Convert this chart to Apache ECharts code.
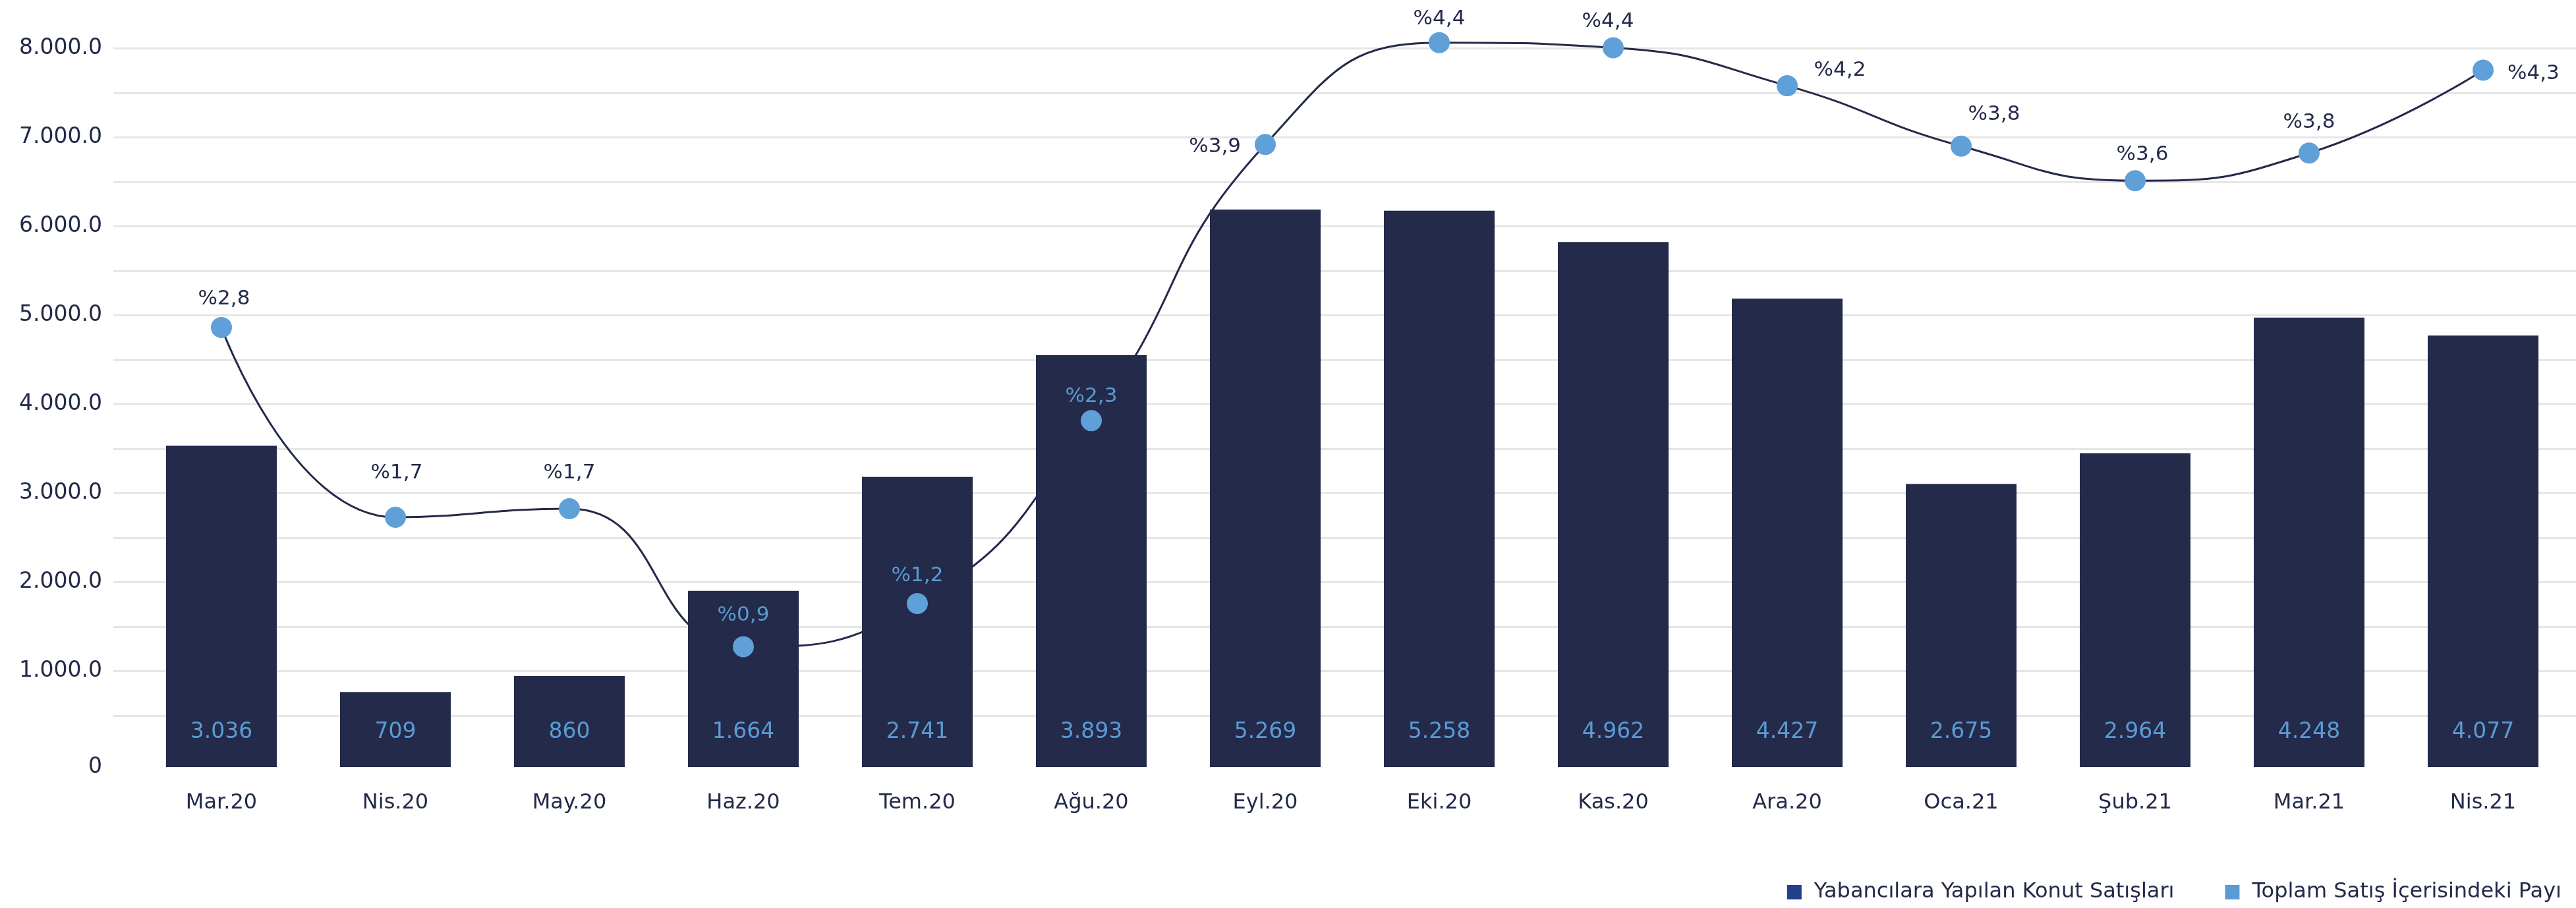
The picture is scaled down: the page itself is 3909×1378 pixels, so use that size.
<!DOCTYPE html>
<html>
<head>
<meta charset="utf-8">
<script src="https://cdn.jsdelivr.net/npm/echarts@6/dist/echarts.min.js"></script>
<style>
html,body{margin:0;padding:0;background:#fff;}
#chart{width:3909px;height:1378px;}
</style>
</head>
<body>
<div id="chart"></div>
<script>
// ---- data ----
const categories = ['Mar.20','Nis.20','May.20','Haz.20','Tem.20','Ağu.20','Eyl.20','Eki.20','Kas.20','Ara.20','Oca.21','Şub.21','Mar.21','Nis.21'];
const salesValues = [3036, 709, 860, 1664, 2741, 3893, 5269, 5258, 4962, 4427, 2675, 2964, 4248, 4077];
const shareValues = [2.79, 1.69, 1.74, 0.94, 1.19, 2.25, 3.85, 4.44, 4.41, 4.19, 3.84, 3.64, 3.80, 4.28];
const seriesNames = ['Yabancılara Yapılan Konut Satışları', 'Toplam Satış İçerisindeki Payı'];

// ---- styles ----
const NAVY = '#232a4a';
const LIGHT = '#5b9bd5';
const labelTweaks = [
  {offset:[4,0]}, {offset:[2,-25]}, {offset:[0,-12]}, {offset:[0,-5], color:LIGHT},
  {offset:[0,0], color:LIGHT}, {offset:[0,6], color:LIGHT}, {position:'left', distance:21, offset:[0,4]},
  {offset:[0,7]}, {offset:[-8,3]}, {offset:[80,19]}, {offset:[50,-5]}, {offset:[11,3]},
  {offset:[0,-4]}, {position:'right', distance:21, offset:[0,5]}
];

function thousands(v){ return String(v).replace(/\B(?=(\d{3})+(?!\d))/g, '.'); }
function pct(v){ return '%' + Number(v).toFixed(1).replace('.', ','); }

const chart = echarts.init(document.getElementById('chart'), null, {renderer:'canvas', devicePixelRatio:1});
const option = {
  animation: false,
  backgroundColor: '#ffffff',
  textStyle: {fontFamily: 'DejaVu Sans'},
  legend: {
    right: 17, top: 1333,
    icon: 'rect', itemWidth: 22, itemHeight: 22, itemGap: 77,
    textStyle: {fontSize: 32, color: NAVY, padding: [0,0,0,14]},
    data: [
      {name: seriesNames[0], itemStyle: {color: '#22418a'}},
      {name: seriesNames[1], itemStyle: {color: LIGHT}}
    ]
  },
  grid: [
    {left: 172, right: 0, top: 73.3, height: 1080},
    {left: 204, right: 9, top: 40, height: 1124}
  ],
  xAxis: [
    {gridIndex: 0, type: 'value', min: 0, max: 1, show: false},
    {gridIndex: 1, type: 'category', data: categories,
     axisLine: {show: false}, axisTick: {show: false},
     axisLabel: {fontSize: 32, color: NAVY, margin: 39, interval: 0}}
  ],
  yAxis: [
    {gridIndex: 0, type: 'value', min: 0, max: 8000, interval: 500,
     axisLine: {show: false}, axisTick: {show: false},
     axisLabel: {fontSize: 33, color: NAVY, margin: 17,
       formatter: v => (v % 1000 === 0 && v !== 0) ? thousands(v) + '.0' : ''},
     splitLine: {show: true, showMinLine: false, lineStyle: {color: '#e6e6e6', width: 3}}},
    {gridIndex: 1, type: 'value', min: 0, max: 7000, interval: 7000,
     axisLine: {show: false}, axisTick: {show: false}, splitLine: {show: false},
     axisLabel: {fontSize: 33, color: NAVY, margin: 49, formatter: v => v === 0 ? '0' : ''}},
    {gridIndex: 1, type: 'value', min: 0.2435, max: 4.534, show: false, splitLine: {show: false}}
  ],
  series: [
    {name: 'curve', type: 'line', xAxisIndex: 1, yAxisIndex: 2, data: shareValues,
     smooth: 0.5, showSymbol: false, silent: true, z: 1,
     lineStyle: {color: NAVY, width: 3}},
    {name: seriesNames[0], type: 'bar', xAxisIndex: 1, yAxisIndex: 1, data: salesValues,
     barWidth: 168, z: 2, itemStyle: {color: NAVY},
     label: {show: true, position: 'insideBottom', distance: 36, color: LIGHT, fontSize: 33,
       formatter: p => thousands(p.value)}},
    {name: seriesNames[1], type: 'line', xAxisIndex: 1, yAxisIndex: 2, z: 3,
     data: shareValues.map((v, i) => ({value: v, label: labelTweaks[i]})),
     symbol: 'circle', symbolSize: 32, showAllSymbol: true,
     itemStyle: {color: '#5fa0d8'},
     lineStyle: {width: 0, opacity: 0},
     label: {show: true, position: 'top', distance: 11, fontSize: 31, color: NAVY,
       formatter: p => pct(p.value)}}
  ]
};
chart.setOption(option);
</script>
</body>
</html>
